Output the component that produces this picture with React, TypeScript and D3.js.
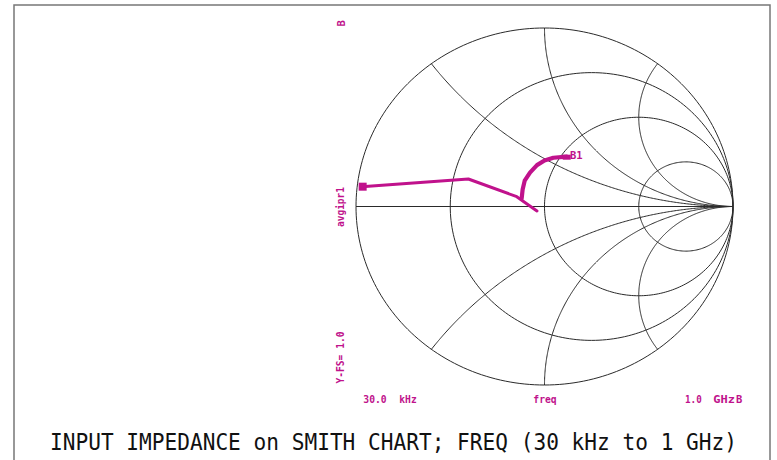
import React from "react";
import * as d3 from "d3";

// Smith chart grid values
const resistanceCircles = [1 / 3, 1, 3];
const reactanceArcs = [0.5, 1, 2, -0.5, -1, -2];

// Trace in reflection-coefficient plane (Re Γ, Im Γ)
const traceMain: [number, number][] = [
  [-0.97, 0.111],
  [-0.404, 0.154],
  [-0.147, 0.055],
  [-0.04, -0.025],
];
const traceArc: [number, number][] = [
  [-0.121, 0.046],
  [-0.116, 0.095],
  [-0.105, 0.145],
  [-0.077, 0.19],
  [-0.04, 0.232],
  [0.0, 0.258],
  [0.047, 0.273],
  [0.118, 0.279],
];

const xLabels = ["30.0", "kHz", "freq", "1.0", "GHz", "B"];
const title = "INPUT IMPEDANCE on SMITH CHART; FREQ (30 kHz to 1 GHz)";

const MAG = "#c0128c";

export default function App() {
  const W = 777;
  const H = 460;
  const xs = d3.scaleLinear().domain([-1, 1]).range([356, 733]);
  const ys = d3.scaleLinear().domain([-1, 1]).range([385, 28]);
  const line = d3
    .line<[number, number]>()
    .x((d) => xs(d[0]))
    .y((d) => ys(d[1]));

  const circlePts = (cx: number, cy: number, r: number, a0: number, a1: number, n = 240) =>
    d3.range(n + 1).map((i) => {
      const a = a0 + ((a1 - a0) * i) / n;
      return [cx + r * Math.cos(a), cy + r * Math.sin(a)] as [number, number];
    });

  const outer = line(circlePts(0, 0, 1, 0, 2 * Math.PI)) + "Z";
  const rPaths = resistanceCircles.map((r) =>
    line(circlePts(r / (1 + r), 0, 1 / (1 + r), 0, 2 * Math.PI))
  );
  const xPaths = reactanceArcs.map((x) => {
    const cy = 1 / x;
    const rad = Math.abs(1 / x);
    const g0: [number, number] = [(x * x - 1) / (x * x + 1), (2 * x) / (x * x + 1)];
    const start = x > 0 ? -Math.PI / 2 : Math.PI / 2;
    let end = Math.atan2(g0[1] - cy, g0[0] - 1);
    if (x > 0) {
      while (end > start) end -= 2 * Math.PI;
    } else {
      while (end < start) end += 2 * Math.PI;
    }
    return line(circlePts(1, cy, rad, start, end));
  });

  const axisPath = line([
    [-1, 0],
    [1, 0],
  ]);

  const labelStyle: React.CSSProperties = {
    fontFamily: "DejaVu Sans Mono, monospace",
    fontWeight: "bold",
    fontSize: 10.5,
    fill: MAG,
  };

  const mStart = traceMain[0];
  const mEnd = traceArc[traceArc.length - 1];

  return (
    <svg width={W} height={H} style={{ position: "absolute", left: 0, top: 0, background: "#fff" }}>
      <rect x={14} y={5} width={756} height={470} fill="none" stroke="#777" strokeWidth={1.5} />
      <g fill="none" stroke="#2a2a2a" strokeWidth={1}>
        <path d={outer} />
        {rPaths.map((d, i) => (
          <path key={"r" + i} d={d || ""} />
        ))}
        {xPaths.map((d, i) => (
          <path key={"x" + i} d={d || ""} />
        ))}
        <path d={axisPath || ""} />
      </g>
      <g fill="none" stroke={MAG} strokeLinejoin="round" strokeLinecap="round">
        <path d={line(traceMain) || ""} strokeWidth={3} />
        <path d={line(traceArc) || ""} strokeWidth={4.2} />
      </g>
      <rect x={xs(mStart[0]) - 3} y={ys(mStart[1]) - 4} width={8} height={8} fill={MAG} />
      <rect x={xs(mEnd[0]) - 4} y={ys(mEnd[1]) - 2} width={8} height={5} fill={MAG} />
      <text x={570} y={158.5} style={labelStyle}>B1</text>

      <text transform="translate(345,26.5) rotate(-90)" style={labelStyle}>B</text>
      <text transform="translate(344,227) rotate(-90)" style={labelStyle} textLength={40} lengthAdjust="spacingAndGlyphs">avgipr1</text>
      <text transform="translate(344,383.5) rotate(-90)" style={labelStyle} textLength={52} lengthAdjust="spacingAndGlyphs">Y-FS= 1.0</text>

      <text x={363.3} y={403} style={labelStyle} textLength={23.4} lengthAdjust="spacingAndGlyphs">{xLabels[0]}</text>
      <text x={399.3} y={403} style={labelStyle} textLength={17.4} lengthAdjust="spacingAndGlyphs">{xLabels[1]}</text>
      <text x={533.3} y={403} style={labelStyle} textLength={23.4} lengthAdjust="spacingAndGlyphs">{xLabels[2]}</text>
      <text x={685} y={403} style={labelStyle} textLength={16.7} lengthAdjust="spacingAndGlyphs">{xLabels[3]}</text>
      <text x={713.3} y={403} style={labelStyle} textLength={21.7} lengthAdjust="spacingAndGlyphs">{xLabels[4]}</text>
      <text x={736} y={403} style={labelStyle}>{xLabels[5]}</text>

      <text
        transform="translate(50,450) scale(1,1.12)"
        style={{ fontFamily: "DejaVu Sans Mono, monospace", fontSize: 21, fill: "#111" }}
        textLength={687}
        lengthAdjust="spacingAndGlyphs"
      >
        {title}
      </text>
    </svg>
  );
}
